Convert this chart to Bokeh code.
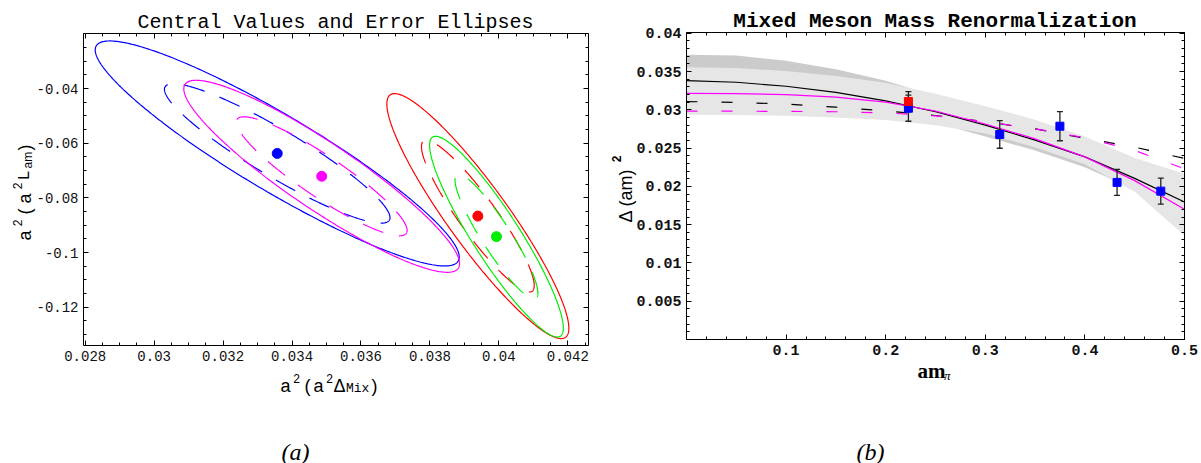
import numpy as np
from bokeh.plotting import figure
from bokeh.layouts import row
from bokeh.models import FixedTicker, LinearAxis, Label, Range1d
from bokeh.embed import file_html
from bokeh.resources import INLINE

# ---------------- panel (a): central values and error ellipses ----------------
ell_colors = ["#0000ff", "#ff00ff", "#ff0000", "#00ee00"]
ell_cx = [0.03357, 0.03486, 0.03939, 0.03993]          # central values a^2(a^2 Delta_Mix)
ell_cy = [-0.06374, -0.07209, -0.08665, -0.09417]      # central values a^2(a^2 L_am)
ell_sx = [0.00528, 0.00400, 0.00264, 0.00194]          # x half-extent of outer contour
ell_sy = [0.04116, 0.03513, 0.04482, 0.03672]          # y half-extent of outer contour
ell_rho = [-0.92, -0.91, -0.915, -0.91]                # correlation
chi2_outer = 5.99   # 95% (solid)
chi2_inner = 2.30   # 68% (dashed)

ax_ticks = [0.028, 0.030, 0.032, 0.034, 0.036, 0.038, 0.040, 0.042]
ax_labels = ["0.028", "0.03", "0.032", "0.034", "0.036", "0.038", "0.04", "0.042"]
ay_ticks = [-0.12, -0.10, -0.08, -0.06, -0.04]
ay_labels = ["-0.12", "-0.1", "-0.08", "-0.06", "-0.04"]

# ---------------- panel (b): mixed meson mass renormalization ----------------
am_pi = [0.2228, 0.3145, 0.3749, 0.4323, 0.4762]
dm2 = [0.03021, 0.02678, 0.02786, 0.02052, 0.01938]
dm2_err = [0.0017, 0.0018, 0.0019, 0.0017, 0.0017]
red_x = [0.2228]
red_y = [0.03108]
red_err = [0.0013]

x_grid = [0.0, 0.05, 0.10, 0.15, 0.20, 0.25, 0.30, 0.35, 0.40, 0.45, 0.50]
fit_black = [0.03382, 0.03360, 0.03308, 0.03228, 0.03118, 0.02975, 0.02800, 0.02605, 0.02385, 0.02105, 0.01795]
fit_magenta = [0.03216, 0.03212, 0.03198, 0.03165, 0.03100, 0.02985, 0.02815, 0.02620, 0.02385, 0.02075, 0.01700]
fit_black_dash = [0.03108, 0.03097, 0.03075, 0.03035, 0.02985, 0.02926, 0.02845, 0.02750, 0.02630, 0.02512, 0.02365]
fit_magenta_dash = [0.02982, 0.02982, 0.02980, 0.02975, 0.02960, 0.02922, 0.02845, 0.02752, 0.02635, 0.02469, 0.02230]
band_dark_hi = [0.03721, 0.03710, 0.03640, 0.03530, 0.03380, 0.03180, 0.02980, 0.02780, 0.02560, 0.02300, 0.02100]
band_dark_lo = [0.03040, 0.03040, 0.03020, 0.02990, 0.02930, 0.02830, 0.02650, 0.02470, 0.02250, 0.01960, 0.01600]
band_light_hi = [0.03556, 0.03547, 0.03507, 0.03443, 0.03353, 0.03210, 0.03047, 0.02870, 0.02653, 0.02370, 0.02165]
band_light_lo = [0.02935, 0.02932, 0.02922, 0.02900, 0.02866, 0.02800, 0.02690, 0.02510, 0.02290, 0.01930, 0.01360]

bx_ticks = [0.0, 0.1, 0.2, 0.3, 0.4, 0.5]
bx_labels = ["", "0.1", "0.2", "0.3", "0.4", "0.5"]
by_ticks = [0.0, 0.005, 0.01, 0.015, 0.02, 0.025, 0.03, 0.035, 0.04]
by_labels = ["", "0.005", "0.01", "0.015", "0.02", "0.025", "0.03", "0.035", "0.04"]

MONO = "Liberation Mono"
SANS = "Liberation Sans"
SERIF = "Liberation Serif"


class Panel:
    """Figure whose frame fills the canvas; the boxed plot area is drawn with
    fixed-location axes so that titles/labels can sit anywhere as real text."""

    def __init__(self, W, H, L, R, T, B, xr, yr, page_x, page_y):
        self.sx = (xr[1] - xr[0]) / (R - L)
        self.sy = (yr[1] - yr[0]) / (B - T)
        self.x_start = xr[0] - L * self.sx
        self.y_end = yr[1] + T * self.sy
        x_end = xr[1] + (W - R) * self.sx
        y_start = yr[0] - (H - B) * self.sy
        self.xr, self.yr = xr, yr
        self.px0, self.py0 = page_x, page_y
        self.p = figure(width=W, height=H, output_backend="svg", toolbar_location=None,
                        x_range=Range1d(self.x_start, x_end), y_range=Range1d(y_start, self.y_end),
                        x_axis_location=None, y_axis_location=None,
                        min_border=0, background_fill_color="white", border_fill_color="white")
        self.p.outline_line_color = None
        self.p.xgrid.visible = False
        self.p.ygrid.visible = False
        self.p.title.visible = False

    def X(self, px):
        return self.x_start + (px - self.px0) * self.sx

    def Y(self, py):
        return self.y_end - (py - self.py0) * self.sy

    def axes(self, xt, xl, xminor, yt, yl, yminor, size, style):
        xr, yr = self.xr, self.yr
        specs = (("below", xt, xl, xminor, yr[0], xr), ("above", xt, None, xminor, yr[1], xr),
                 ("left", yt, yl, yminor, xr[0], yr), ("right", yt, None, yminor, xr[1], yr))
        for loc, t, l, mn, fixed, bnd in specs:
            a = LinearAxis(ticker=FixedTicker(ticks=t, minor_ticks=mn), fixed_location=fixed,
                           bounds=bnd)
            a.axis_line_color = "black"
            a.axis_line_width = 1
            a.major_tick_in = 5
            a.major_tick_out = 0
            a.minor_tick_in = 3
            a.minor_tick_out = 0
            a.major_tick_line_color = "black"
            a.minor_tick_line_color = "black"
            if l is None:
                a.major_label_overrides = {v: "" for v in t}
                a.major_label_text_font_size = "0px"
                a.major_label_standoff = 0
            else:
                a.major_label_overrides = {v: s for v, s in zip(t, l)}
                a.major_label_standoff = 5
                a.major_label_text_font = MONO
                a.major_label_text_font_size = size
                a.major_label_text_font_style = style
                a.major_label_text_color = "#111111"
            self.p.add_layout(a, loc)

    def lab(self, px, py, text, font, size, style="normal", angle=0.0, align="left"):
        self.p.add_layout(Label(x=self.X(px), y=self.Y(py), text=text, text_font=font,
                                text_font_size=f"{size}px", text_font_style=style,
                                angle=angle, text_align=align, text_baseline="alphabetic",
                                text_color="black"))


# ======================= figure (a) =======================
A = Panel(600, 463, 83, 588, 33, 345, (0.02795, 0.0426), (-0.1340, -0.01985), 0, 0)
pa = A.p
A.axes(ax_ticks, ax_labels, [0.028 + 0.0005 * i for i in range(30)],
       ay_ticks, ay_labels, [-0.13 + 0.005 * i for i in range(23)], "14px", "normal")

t = np.linspace(0.0, 2.0 * np.pi, 400)
for col, cx, cy, sx, sy, r in zip(ell_colors, ell_cx, ell_cy, ell_sx, ell_sy, ell_rho):
    for lvl, dash in ((chi2_outer, "solid"), (chi2_inner, "22 16")):
        k = np.sqrt(lvl / chi2_outer)
        xs = cx + k * sx * np.cos(t)
        ys = cy + k * sy * (r * np.cos(t) + np.sqrt(1 - r * r) * np.sin(t))
        pa.line(xs, ys, line_color=col, line_width=1.2, line_dash=dash)
pa.scatter(ell_cx, ell_cy, color=ell_colors, size=10, marker="circle")

A.lab(335, 22, "Central Values and Error Ellipses", MONO, 20, align="center")
# x axis label  a^2 (a^2 Delta_Mix)
A.lab(280, 385, "a", SANS, 18)
A.lab(292.5, 378, "2", MONO, 12)
A.lab(304, 385, "(", SANS, 18)
A.lab(313, 385, "a", SANS, 18)
A.lab(325.5, 378, "2", MONO, 12)
A.lab(333, 385, "\u0394", SANS, 18)
A.lab(345.5, 388, "Mix", MONO, 13)
A.lab(371, 385, ")", SANS, 18)
# y axis label  a^2 (a^2 L_am), rotated
ang = np.pi / 2
bx0, by0 = 24, 240
for text, d, h, font, size in (("a", 0, 0, SANS, 18), ("2", 14, 7, MONO, 12), ("(", 26, 0, SANS, 18),
                                ("a", 37, 0, SANS, 18), ("2", 51, 7, MONO, 12), ("L", 60, 0, MONO, 17),
                                ("am", 72, -3, SANS, 12), (")", 90, 0, SANS, 18)):
    A.lab(bx0 - h, by0 - d, text, font, size, angle=ang)
A.lab(295, 451, "(a)", SERIF, 24, style="italic", align="center")

# ======================= figure (b) =======================
B = Panel(601, 463, 86, 584, 32, 339, (0.0, 0.5), (0.0, 0.0401), 600, 0)
pb = B.p
B.axes(bx_ticks, bx_labels, [0.02 * i for i in range(26)],
       by_ticks, by_labels, [0.001 * i for i in range(41)], "15px", "bold")

pb.varea(x=x_grid, y1=band_dark_lo, y2=band_dark_hi, fill_color="#cbcbcb")
pb.varea(x=x_grid, y1=band_light_lo, y2=band_light_hi, fill_color="#e6e6e6")
pb.line(x_grid, fit_black_dash, line_color="black", line_width=1.2, line_dash="11 24")
pb.line(x_grid, fit_magenta_dash, line_color="#ff00ff", line_width=1.2, line_dash="11 24")
pb.line(x_grid, fit_black, line_color="black", line_width=1.2)
pb.line(x_grid, fit_magenta, line_color="#ff00ff", line_width=1.2)

all_x = am_pi + red_x
all_y = dm2 + red_y
all_e = dm2_err + red_err
lo = [y - e for y, e in zip(all_y, all_e)]
hi = [y + e for y, e in zip(all_y, all_e)]
pb.segment(x0=all_x, y0=lo, x1=all_x, y1=hi, line_color="#222222", line_width=1.3)
pb.scatter(all_x + all_x, lo + hi, marker="dash", size=6, line_color="#222222", line_width=1.3)
pb.scatter(am_pi, dm2, marker="square", size=8, fill_color="#0000ff", line_color="#0000ff")
pb.scatter(red_x, red_y, marker="square", size=8, fill_color="#ff0000", line_color="#ff0000")

B.lab(934.5, 21, "Mixed Meson Mass Renormalization", MONO, 21, style="bold", align="center")
B.lab(917, 370, "am", SERIF, 21, style="bold")
B.lab(943.5, 375, "\u03c0", SERIF, 13, style="italic")
B.lab(625, 222, "\u0394 (am)", SANS, 18, angle=np.pi / 2)
B.lab(625 - 9, 222 - 60, "2", MONO, 12, style="bold", angle=np.pi / 2)
B.lab(870, 451, "(b)", SERIF, 24, style="italic", align="center")

layout = row(pa, pb, spacing=0)
open("out.html", "w").write(file_html(layout, INLINE))
